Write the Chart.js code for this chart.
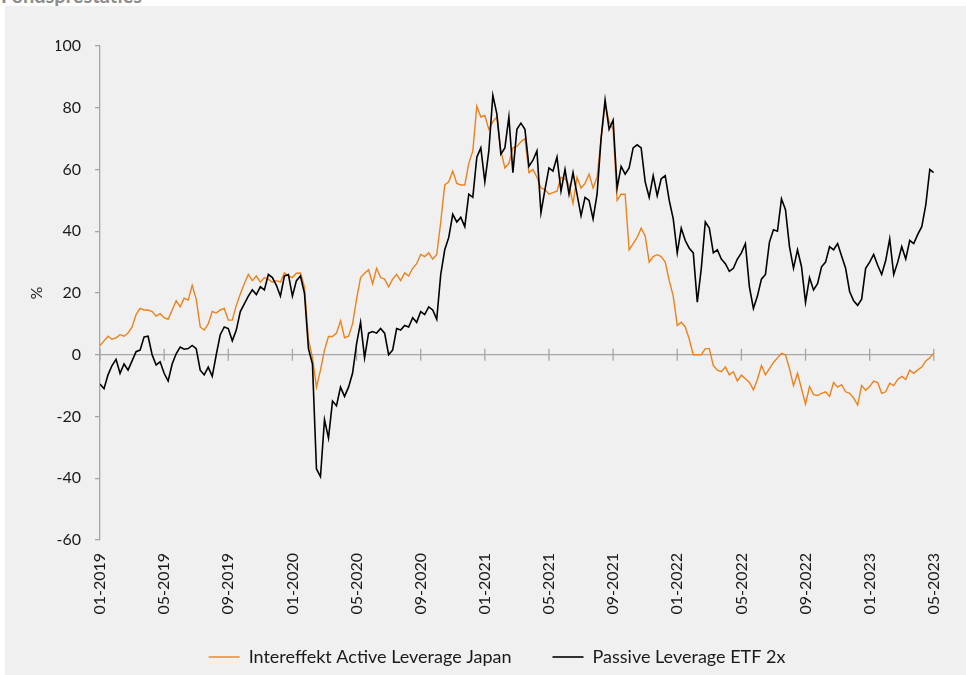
<!DOCTYPE html>
<html>
<head>
<meta charset="utf-8">
<script src="https://cdn.jsdelivr.net/npm/chart.js"></script>
<style>
  html, body { margin: 0; padding: 0; background: #fff; }
  body { width: 966px; height: 675px; position: relative; overflow: hidden; font-family: Lato, sans-serif; }
  #title { position: absolute; left: 1px; top: -17px; font-weight: bold; font-size: 20px; color: #8c8c8c; }
  #panel { position: absolute; left: 5px; top: 6px; right: 0; bottom: 0; background: #f0f0f0; }
  #perfChart { position: absolute; left: 0; top: 0; }
</style>
</head>
<body>
<div id="title">Fondsprestaties</div>
<div id="panel"></div>
<canvas id="perfChart" width="966" height="675"></canvas>
<script>
// x ticks every 4 months, starting 01-2019
const tickLabels = ['01-2019', '05-2019', '09-2019', '01-2020', '05-2020', '09-2020', '01-2021',
  '05-2021', '09-2021', '01-2022', '05-2022', '09-2022', '01-2023', '05-2023'];

// cumulative return in %, roughly weekly (4 readings per month), one row per month
const activeFund = [
  3, 4.5, 6, 5,
  5.5, 6.5, 6, 7,
  9, 13, 15, 14.5,
  14.5, 14, 12.5, 13.3,
  12, 11.5, 14.5, 17.5,
  15.5, 18.3, 17.7, 22.5,
  18, 9, 8, 10,
  14, 13.5, 14.5, 15,
  11.2, 11.2, 16, 19.7,
  23, 26, 24, 25.5,
  23.5, 25, 24.5, 23.5,
  24, 23.5, 26.5, 25.5,
  25, 26.4, 26.5, 22,
  5, -1, -10.5, -5,
  1.5, 5.9, 5.9, 7,
  11, 5.5, 6, 10,
  18, 25, 26.4, 27.5,
  23, 28, 25, 24.5,
  22, 24.5, 26, 24,
  26.5, 25.5, 28, 29.5,
  32.5, 31.8, 33, 31,
  32.4, 43, 55, 56,
  59.5, 55.5, 55, 55,
  62, 66, 80.5, 77,
  77.5, 73, 75.5, 77,
  66, 60.5, 62, 67,
  67.5, 69, 70, 59,
  60, 57.5, 54, 53.5,
  52, 52.5, 53, 57.5,
  57, 55, 49, 57.5,
  54, 55.5, 58.5, 54,
  57.5, 70, 81, 75.5,
  73, 50, 52, 52,
  34, 36, 38, 41,
  38.5, 30, 31.8, 32.4,
  31.8, 30, 24, 19,
  9.5, 10.5, 9, 5,
  0, 0, 0, 2,
  2, -3.5, -5, -5.5,
  -4, -6.5, -5.5, -8.5,
  -6.6, -7.8, -9, -11.4,
  -8, -3.5, -6.5, -4.5,
  -2.5, -1, 0.5, 0,
  -4.5, -10, -6, -11,
  -16, -10.3, -12.9, -13.2,
  -12.5, -12, -13.5, -9,
  -10.5, -9.7, -12, -12.5,
  -14, -16.3, -10, -11.5,
  -10.3, -8.5, -9, -12.5,
  -12, -9.2, -10, -8,
  -7, -8, -5, -6,
  -4.9, -4, -2, -1,
  0.5
];

const passiveEtf = [
  -9.5, -11, -6.5, -3.5,
  -1.5, -6, -3, -5,
  -2, 1, 1.5, 5.8,
  6, 0, -3.3, -2.3,
  -6, -8.5, -3, 0.3,
  2.5, 1.8, 2, 3,
  2, -5, -6.5, -4,
  -7, 0, 6.5, 9,
  8.5, 4.5, 8, 14,
  16.5, 19, 21, 19.5,
  22, 21, 26, 25,
  22.5, 19, 25.5, 26,
  19, 24, 25.5, 20,
  2, -3, -37, -39.5,
  -21, -27, -15, -16.5,
  -10.5, -13.5, -10.5, -6,
  3.5, 10.5, -1, 7,
  7.5, 7, 8.5, 7,
  0, 1.5, 8.5, 8,
  9.5, 9, 12, 10.5,
  14, 13, 15.5, 14.5,
  11.5, 26, 34, 38,
  45.5, 43, 44.5, 41.5,
  52, 51, 64, 67,
  56, 66, 84, 78,
  65, 67, 77, 59,
  73, 75, 73, 61,
  63, 66, 46, 53.5,
  60.5, 59.5, 64, 53,
  60, 52, 59, 52,
  45, 51, 50, 44,
  52, 70, 82.5, 73,
  76, 54, 61, 58.5,
  60.5, 67, 68, 67,
  56, 51, 58, 51.5,
  57, 58, 50, 44,
  33, 41, 37, 34.5,
  33, 17, 28, 43,
  41, 33, 34, 31,
  29.5, 27, 28, 31,
  33, 36, 22, 15,
  19, 24.5, 26, 36.5,
  40.5, 40, 50.5, 47,
  35, 28, 34, 28.5,
  17, 25, 21, 23,
  28.5, 30, 35, 34,
  36, 32, 28, 20.5,
  17.5, 16, 18, 28,
  30, 32.5, 29, 26,
  30.5, 37.5, 26, 30,
  35, 31, 37, 36,
  39, 41.5, 48.5, 60,
  59
];

const seriesNames = ['Intereffekt Active Leverage Japan', 'Passive Leverage ETF 2x'];

// position of each reading in months since 01-2019
const toPoints = arr => arr.map((v, i) => ({ x: i / 4, y: v }));

const axisGrey = '#a6a6a6';
const textColor = '#1a1a1a';

// small tick marks across the zero line at each date label
const zeroLineTicks = {
  id: 'zeroLineTicks',
  beforeDatasetsDraw(chart) {
    const { ctx, scales: { x, y } } = chart;
    const y0 = y.getPixelForValue(0);
    ctx.save();
    ctx.strokeStyle = axisGrey;
    ctx.lineWidth = 1.3;
    x.ticks.forEach(t => {
      const px = x.getPixelForValue(t.value);
      ctx.beginPath();
      ctx.moveTo(px, y0 - 6);
      ctx.lineTo(px, y0 + 6);
      ctx.stroke();
    });
    ctx.restore();
  }
};

// the rotated date labels run a bit into the legend band; don't clip them
const roomForDateLabels = {
  id: 'roomForDateLabels',
  afterLayout(chart) {
    chart.scales.x.bottom = chart.height;
  }
};

Chart.defaults.font.family = 'Lato, sans-serif';
Chart.defaults.color = textColor;

const ctxPerf = document.getElementById('perfChart').getContext('2d');
new Chart(ctxPerf, {
  type: 'line',
  data: {
    datasets: [
      {
        label: seriesNames[0],
        data: toPoints(activeFund),
        borderColor: '#f08019',
        borderWidth: 1.4,
        pointRadius: 0,
        order: 2
      },
      {
        label: seriesNames[1],
        data: toPoints(passiveEtf),
        borderColor: '#000000',
        borderWidth: 1.6,
        pointRadius: 0,
        order: 1
      }
    ]
  },
  options: {
    responsive: false,
    animation: false,
    layout: { padding: { left: 56, right: 28, top: 46, bottom: -1 } },
    plugins: {
      tooltip: { enabled: false },
      legend: {
        position: 'bottom',
        labels: {
          usePointStyle: true,
          pointStyle: 'line',
          pointStyleWidth: 31,
          padding: 41,
          color: textColor,
          font: { size: 18 },
          sort: (a, b) => a.datasetIndex - b.datasetIndex
        }
      }
    },
    scales: {
      x: {
        type: 'linear',
        min: 0,
        max: 52,
        grid: { display: false, drawTicks: false },
        border: { display: false },
        ticks: {
          stepSize: 4,
          autoSkip: false,
          minRotation: 90,
          maxRotation: 90,
          padding: 13,
          font: { size: 16 },
          callback: v => tickLabels[v / 4]
        },
        afterFit: s => { s.height = 67; }
      },
      y: {
        min: -60,
        max: 100,
        grid: {
          color: c => (c.tick && c.tick.value === 0 ? axisGrey : 'rgba(0,0,0,0)'),
          tickColor: axisGrey,
          tickLength: 5,
          lineWidth: 1.3
        },
        border: { color: axisGrey, width: 1.3 },
        ticks: { stepSize: 20, padding: 14, font: { size: 16 } },
        title: { display: true, text: '%', font: { size: 16 }, padding: { top: -29, bottom: 0 } },
        afterFit: s => { s.width = 44; }
      }
    }
  },
  plugins: [zeroLineTicks, roomForDateLabels]
});
</script>
</body>
</html>
